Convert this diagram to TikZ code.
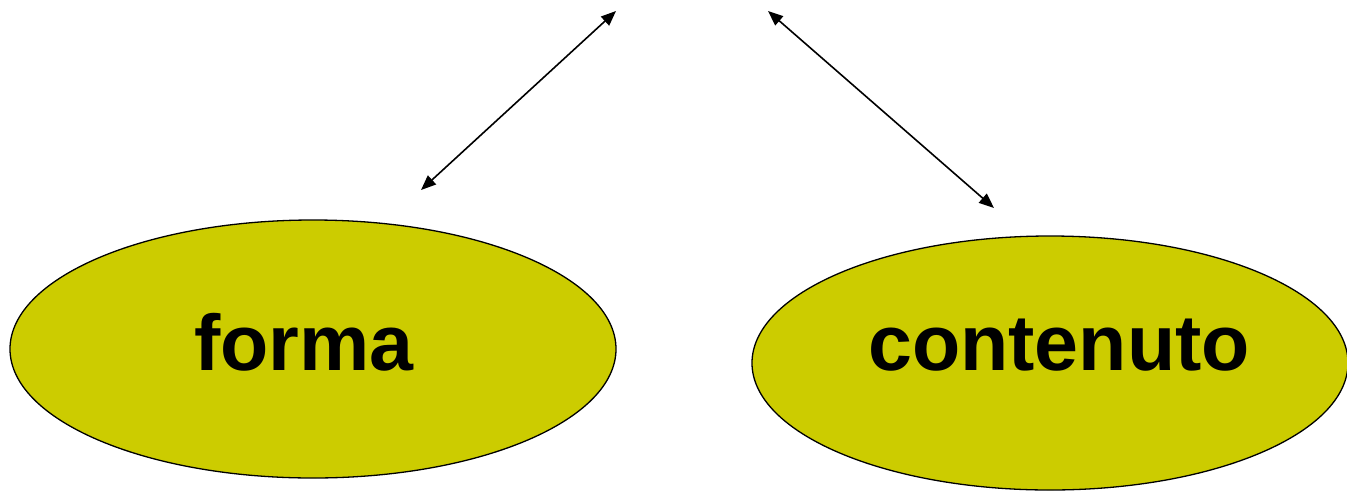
\documentclass[tikz,border=0pt]{standalone}
\usepackage{fontspec}
\setmainfont{Liberation Sans}
\usetikzlibrary{arrows.meta,shapes.geometric}
\definecolor{olive}{RGB}{204,204,0}
\begin{document}
\begin{tikzpicture}[x=1pt,y=-1pt,
        blob/.style = {ellipse,draw,fill=olive,line width=1.3pt},
        word/.style = {anchor=base,inner sep=0pt,
                       font=\fontsize{79}{79}\selectfont\bfseries},
        twohead/.style = {{Triangle[length=15pt,width=12pt]}-{Triangle[length=15pt,width=12pt]},line width=1.6pt}]
                \useasboundingbox (0,0) rectangle (1347,491);
                \node [blob,minimum width=606pt,minimum height=258pt] (forma) at (313,349) {};
                \node [blob,minimum width=596pt,minimum height=254pt] (contenuto) at (1050,363) {};
                \node [word] (formatext) at (304,370) {forma};
                \node [word] (contenutotext) at (1059,370) {contenuto};
                \coordinate (fa) at (421,190);
                \coordinate (fb) at (616,11);
                \coordinate (ca) at (768,11);
                \coordinate (cb) at (994,208);
                \draw [twohead] (fa) -- (fb);
                \draw [twohead] (ca) -- (cb);
            \end{tikzpicture}
\end{document}
